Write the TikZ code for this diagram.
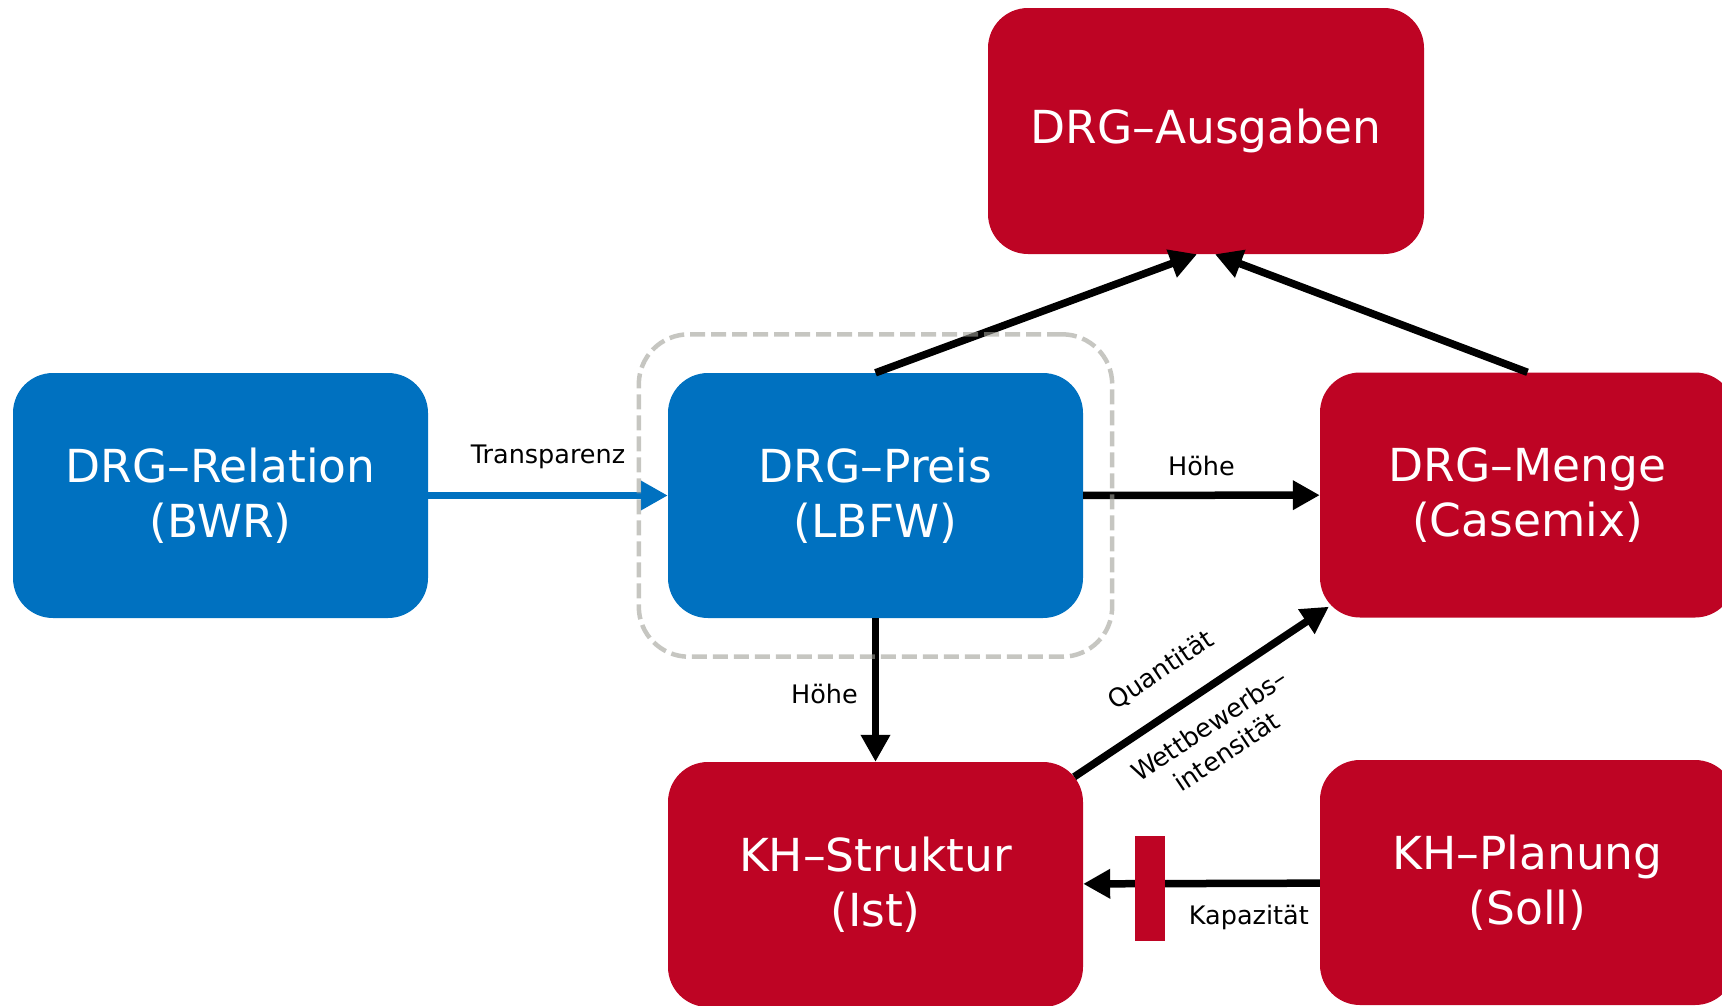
\documentclass[tikz,border=0pt]{standalone}
\usepackage{fontspec}
\setmainfont{DejaVu Sans}
\usetikzlibrary{arrows.meta,fit}
\definecolor{drgblue}{RGB}{0,113,192}
\definecolor{drgred}{RGB}{190,4,36}
\definecolor{dashgray}{RGB}{160,160,152}
\newcommand{\boxfont}{\fontsize{45.5}{55}\selectfont}
\newcommand{\lblfont}{\fontsize{25.5}{32}\selectfont}
\begin{document}
\begin{tikzpicture}[x=1pt,y=-1pt,
  box/.style={rounded corners=40pt, minimum width=415pt, minimum height=245pt, text=white, align=center, font=\boxfont, inner sep=0pt},
  bluebox/.style={box, fill=drgblue},
  redbox/.style={box, fill=drgred},
  conn/.style={line width=7.5pt, -{Triangle[length=27pt,width=28pt]}},
  blackconn/.style={conn, draw=black},
  blueconn/.style={conn, draw=drgblue},
  lbl/.style={font=\lblfont, inner sep=0pt, text=black},
  grpbox/.style={draw=dashgray, draw opacity=0.6, line width=4.5pt, dash pattern=on 15pt off 6pt, rounded corners=50pt},
  barbox/.style={fill=drgred, minimum width=30pt, minimum height=105pt, inner sep=0pt}
  ]
\useasboundingbox (0,0) rectangle (1722,1005);
\clip (0,0) rectangle (1722,1005);
\node[bluebox] (rel) at (220.5,495.5) {DRG–Relation\\(BWR)};
\node[bluebox] (preis) at (875.5,495.5) {DRG–Preis\\(LBFW)};
\node[redbox, minimum width=436pt, minimum height=246pt] (ausg) at (1206,131) {DRG–Ausgaben};
\node[redbox] (menge) at (1527.5,495) {DRG–Menge\\(Casemix)};
\node[redbox] (struk) at (875.5,884.5) {KH–Struktur\\(Ist)};
\node[redbox] (plan) at (1527.5,882.5) {KH–Planung\\(Soll)};

\draw[blueconn] (rel) -- node[lbl, above=23pt]{Transparenz} (preis);
\draw[blackconn] (preis) -- node[lbl, above=16pt]{Höhe} (menge);
\draw[blackconn] (preis) -- node[lbl, pos=0.53, left=14pt]{Höhe} (struk);
\draw[blackconn] (preis.north) -- ([xshift=-9pt]ausg.south);
\draw[blackconn] (menge.north) -- ([xshift=9pt]ausg.south);
\draw[blackconn] ([xshift=-9pt,yshift=-15pt]struk.north east) --
  node[lbl, sloped, pos=0.43, above=25pt]{Quantität}
  node[lbl, sloped, pos=0.46, below=18pt, align=center]{Wettbewerbs–\\intensität}
  ([xshift=9pt,yshift=11pt]menge.south west);
\draw[blackconn] (plan) -- node[lbl, pos=0.3, below=18.5pt]{Kapazität} (struk);
\node[barbox] (bar) at (1149.5,888.5) {};
\node[grpbox, fit=(preis), inner xsep=29pt, inner ysep=38.5pt] (grp) {};
\end{tikzpicture}
\end{document}
